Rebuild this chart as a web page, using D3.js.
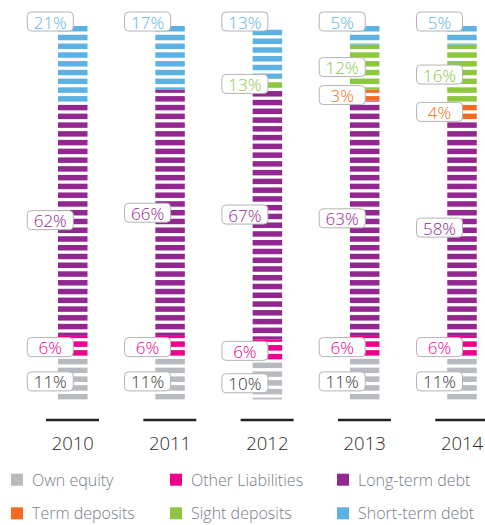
<!DOCTYPE html>
<html>
<head>
<meta charset="utf-8">
<script src="https://cdn.jsdelivr.net/npm/d3@7"></script>
<style>
  html, body { margin: 0; padding: 0; background: #fff; }
  svg { display: block; font-family: "Open Sans", "Noto Sans", sans-serif; }
</style>
</head>
<body>
<svg id="chart" width="485" height="525"></svg>
<script>
// ---- data ----
const years = ["2010", "2011", "2012", "2013", "2014"];
const seriesNames = ["Own equity", "Other Liabilities", "Long-term debt", "Term deposits", "Sight deposits", "Short-term debt"];
const ownEquity        = [11, 11, 10, 11, 11];
const otherLiabilities = [6, 6, 6, 6, 6];
const longTermDebt     = [62, 66, 67, 63, 58];
const termDeposits     = [0, 0, 0, 3, 4];
const sightDeposits    = [0, 0, 3, 12, 16];
const shortTermDebt    = [21, 17, 13, 5, 5];
// label texts shown in the original (2012 sight deposits is labelled 13%)
const sightDepositLabels = ["", "", "13%", "12%", "16%"];
const legendOrder = ["Own equity", "Other Liabilities", "Long-term debt", "Term deposits", "Sight deposits", "Short-term debt"];

const colors = {
  "Own equity": "#b7babe",
  "Other Liabilities": "#ec008c",
  "Long-term debt": "#92278f",
  "Term deposits": "#f26b21",
  "Sight deposits": "#8dc63f",
  "Short-term debt": "#5cb3e3"
};
const labelColors = Object.assign({}, colors, { "Own equity": "#333333" });

const valuesBySeries = {
  "Own equity": ownEquity,
  "Other Liabilities": otherLiabilities,
  "Long-term debt": longTermDebt,
  "Term deposits": termDeposits,
  "Sight deposits": sightDeposits,
  "Short-term debt": shortTermDebt
};
const labelsBySeries = {
  "Sight deposits": sightDepositLabels
};

const table = years.map((yr, i) => {
  const row = { year: yr };
  seriesNames.forEach(s => row[s] = valuesBySeries[s][i]);
  return row;
});

// ---- layout ----
const svg = d3.select("#chart");
const x = d3.scalePoint().domain(years).range([72.75, 462]);
const y = d3.scaleLinear().domain([0, 100]).range([399.4, 26]);
const barW = 29.5;
const stripePeriod = 8.76, stripeH = 5.5;

const stacked = d3.stack().keys(seriesNames)(table);

const bars = svg.append("g");
stacked.forEach(layer => {
  bars.selectAll(null)
    .data(layer.filter(d => d[1] > d[0]))
    .enter().append("rect")
    .attr("x", d => x(d.data.year) - barW / 2)
    .attr("y", d => y(d[1]))
    .attr("width", barW)
    .attr("height", d => y(d[0]) - y(d[1]))
    .attr("fill", colors[layer.key]);
});

// white stripes over each bar (anchored at the top of each bar)
table.forEach(row => {
  const total = d3.sum(seriesNames, s => row[s]);
  const top = y(total), bottom = y(0);
  const gaps = [];
  for (let g = top + stripeH; g < bottom; g += stripePeriod) gaps.push(g);
  svg.append("g").selectAll("rect").data(gaps).enter().append("rect")
    .attr("x", x(row.year) - barW / 2 - 0.5)
    .attr("y", d => d)
    .attr("width", barW + 1)
    .attr("height", d => Math.min(stripePeriod - stripeH, bottom - d))
    .attr("fill", "#fff");
});

// value labels
const labelsG = svg.append("g");
const boxW = 46, boxH = 19;
stacked.forEach((layer, li) => {
  layer.forEach((d, i) => {
    if (!(d[1] > d[0])) return;
    const yr = d.data.year;
    const isTop = seriesNames.slice(li + 1).every(s => !(d.data[s] > 0));
    const cy = isTop ? y(100) - 4.5 : (y(d[0]) + y(d[1])) / 2 + (li === 0 ? 2.5 : 0);
    const cx = x(yr);
    const txt = labelsBySeries[layer.key] ? labelsBySeries[layer.key][i] : (d.data[layer.key] + "%");
    labelsG.append("rect")
      .attr("x", cx - boxW + 0.5).attr("y", cy - boxH / 2)
      .attr("width", boxW).attr("height", boxH)
      .attr("rx", 4).attr("ry", 4)
      .attr("fill", "#fff").attr("stroke", "#b4b4b4").attr("stroke-width", 1);
    labelsG.append("text")
      .attr("x", cx - boxW / 2 + 0.5).attr("y", cy + 0.5)
      .attr("text-anchor", "middle").attr("dominant-baseline", "central")
      .attr("font-size", 17).attr("font-weight", 300).attr("fill", labelColors[layer.key])
      .text(txt);
  });
});

// axis under each bar
const axisG = svg.append("g");
axisG.selectAll("line").data(years).enter().append("line")
  .attr("x1", d => x(d) - 26.75).attr("x2", d => x(d) + 26.25)
  .attr("y1", 420).attr("y2", 420)
  .attr("stroke", "#222").attr("stroke-width", 2.5);
axisG.selectAll("text").data(years).enter().append("text")
  .attr("x", d => x(d)).attr("y", 450)
  .attr("text-anchor", "middle").attr("font-size", 18.5).attr("font-weight", 300).attr("fill", "#2a2a2a")
  .text(d => d);

// legend
const legX = [11, 170, 337], legY = [479.7, 513.3];
const legend = svg.append("g");
legendOrder.forEach((name, i) => {
  const lx = legX[i % 3], ly = legY[Math.floor(i / 3)];
  legend.append("rect").attr("x", lx).attr("y", ly - 6).attr("width", 12).attr("height", 12)
    .attr("fill", colors[name]);
  legend.append("text").attr("x", lx + 21).attr("y", ly)
    .attr("dominant-baseline", "central").attr("font-size", 16).attr("font-weight", 300).attr("fill", "#767d86")
    .text(name);
});
</script>
</body>
</html>
